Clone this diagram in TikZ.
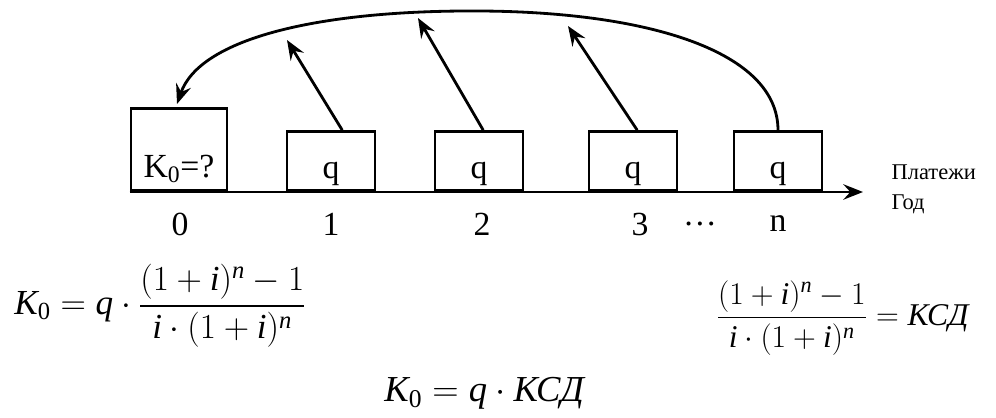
\documentclass[tikz,border=0pt]{standalone}
\usepackage{fix-cm}
\usepackage{amsmath}
\usepackage{fontspec}
\setmainfont{Liberation Serif}
\usetikzlibrary{arrows.meta}
\newcommand{\mv}[1]{\textit{#1}}

\begin{document}
\begin{tikzpicture}[x=0.025cm,y=-0.025cm,>={Stealth[length=14pt,width=11pt,inset=5pt]},
  line width=2pt,
  paybox/.style={draw,line width=2pt,minimum width=2.2cm,minimum height=1.475cm,anchor=south,inner sep=0pt},
  boxtext/.style={anchor=base,font=\fontsize{24}{28}\selectfont},
  yearlab/.style={font=\fontsize{24}{28}\selectfont},
  axlab/.style={anchor=base west,font=\fontsize{16}{18}\selectfont},
  formula/.style={font=\fontsize{25}{29}\selectfont,inner sep=0pt}]
  \useasboundingbox (0,0) rectangle (996,418);
  % boxes on the time axis
  \node[paybox,minimum width=2.4cm,minimum height=2.05cm] (p0) at (179,192) {};
  \node[boxtext] at ([yshift=10pt]p0.south) {K\textsubscript{0}=?};
  \foreach \n/\x/\lx in {1/331/331,2/479/482,3/633/640,n/778/778}{
    \node[paybox] (p\n) at (\x,192) {};
    \node[boxtext] at ([yshift=9.5pt]p\n.south) {q};
    \node[yearlab] at (\lx,224) {\n};
  }
  \node[yearlab] at (180,224) {0};
  \node[yearlab] at (700,224) {\dots};
  % axis
  \coordinate (axend) at (863,192);
  \draw[->] (p0.south west) -- (axend);
  \node[axlab] at ([xshift=16pt,yshift=9pt]axend) {Платежи};
  \node[axlab] at ([xshift=16pt,yshift=-12.5pt]axend) {Год};
  % discounting arrows
  \coordinate (k0) at (177,104);
  \coordinate (t1) at (287,40);
  \coordinate (t2) at (418,18);
  \coordinate (t3) at (568,26);
  \draw[->] (pn.north) .. controls (778,52) and (650,12) .. (480,11)
    .. controls (320,10) and (200,38) .. (k0);
  \draw[->] ([xshift=8pt]p1.north) -- (t1);
  \draw[->] ([xshift=3pt]p2.north) -- (t2);
  \draw[->] ([xshift=3pt]p3.north) -- (t3);
  % formulas
  \node[formula,anchor=west] (f1) at (13,306)
    {$\mv{K}_{\text{0}}=\mv{q}\cdot\dfrac{(1+\mv{i})^{\mv{n}}-1}{\mv{i}\cdot(1+\mv{i})^{\mv{n}}}$};
  \node[formula,anchor=west,font=\fontsize{22.5}{27}\selectfont] (f2) at (715,318)
    {$\dfrac{(1+\mv{i})^{\mv{n}}-1}{\mv{i}\cdot(1+\mv{i})^{\mv{n}}}=\mv{КСД}$};
  \node[formula,anchor=base west,font=\fontsize{26}{30}\selectfont] (f3) at (383,402)
    {$\mv{K}_{\text{0}}=\mv{q}\cdot\mv{КСД}$};
\end{tikzpicture}
\end{document}
